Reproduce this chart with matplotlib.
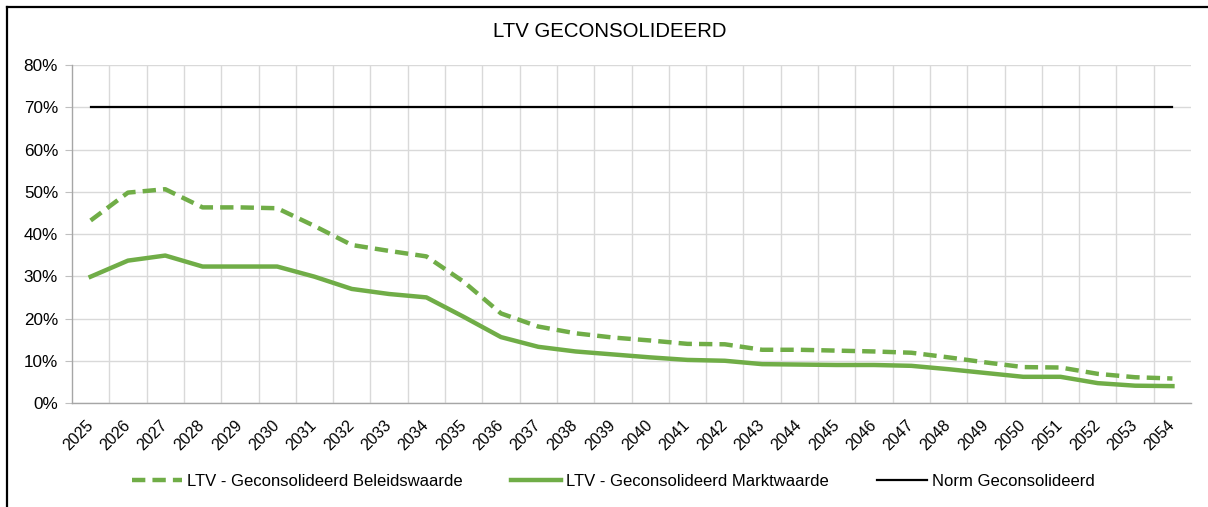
import numpy as np
import matplotlib.pyplot as plt
from matplotlib.lines import Line2D
from matplotlib.ticker import PercentFormatter

plt.rcParams['font.family'] = ['Liberation Sans', 'DejaVu Sans']

# data (percent)
years = [str(y) for y in range(2025, 2055)]
beleidswaarde = [43.2, 49.8, 50.6, 46.3, 46.3, 46.1, 41.9, 37.4, 36.0, 34.7,
                 28.7, 21.2, 18.1, 16.5, 15.5, 14.8, 14.0, 13.9, 12.6, 12.6,
                 12.4, 12.2, 11.9, 10.8, 9.6, 8.5, 8.4, 6.9, 6.1, 5.8]
marktwaarde = [29.9, 33.7, 34.9, 32.3, 32.3, 32.3, 29.9, 27.0, 25.8, 25.0,
               20.4, 15.6, 13.3, 12.2, 11.5, 10.8, 10.2, 10.0, 9.2, 9.1,
               9.0, 9.0, 8.8, 8.0, 7.1, 6.2, 6.2, 4.7, 4.1, 4.0]
norm = [70.0] * len(years)

green = '#70AD47'
x = np.arange(len(years))

fig = plt.figure(figsize=(12.08, 5.07), dpi=100)
ax = fig.add_axes([0.0596, 0.2051, 0.9264, 0.6667])

ax.plot(x, beleidswaarde, color=green, lw=3.2, ls=(0, (3.0, 1.6)),
        label='LTV - Geconsolideerd Beleidswaarde')
ax.plot(x, marktwaarde, color=green, lw=3.2,
        label='LTV - Geconsolideerd Marktwaarde')
ax.plot(x, norm, color='black', lw=1.6, label='Norm Geconsolideerd')

ax.set_xlim(-0.5, len(years) - 0.5)
ax.set_ylim(0, 80)
ax.set_yticks(np.arange(0, 81, 10))
ax.yaxis.set_major_formatter(PercentFormatter(decimals=0))
ax.set_xticks(x)
ax.set_xticklabels(years, rotation=45, ha='right', va='center',
                   rotation_mode='anchor', fontsize=11.5)
ax.set_xticks(np.arange(0.5, len(years) - 1, 1), minor=True)
ax.tick_params(axis='x', which='both', length=0, pad=14)
ax.tick_params(axis='y', length=5, color='#BFBFBF', labelsize=12.3, pad=5)

ax.grid(axis='y', color='#D9D9D9', lw=1.0)
ax.grid(axis='x', which='minor', color='#D9D9D9', lw=1.0)
ax.set_axisbelow(True)
for side in ['top', 'right']:
    ax.spines[side].set_visible(False)
for side in ['left', 'bottom']:
    ax.spines[side].set_color('#A6A6A6')
    ax.spines[side].set_linewidth(1.0)

fig.text(0.505, 0.937, 'LTV GECONSOLIDEERD', ha='center', va='center', fontsize=14.7)

fig.legend(loc='center', bbox_to_anchor=(0.508, 0.051), ncol=3, frameon=False,
           fontsize=12, handlelength=3.0, handletextpad=0.3, columnspacing=2.9)

# outer frame
fig.add_artist(Line2D([6.5 / 1208, 6.5 / 1208], [0, 1 - 6.5 / 507], color='black', lw=1.6))
fig.add_artist(Line2D([6.5 / 1208, 1], [1 - 6.5 / 507, 1 - 6.5 / 507], color='black', lw=1.6))

fig.savefig('out.png', dpi=100)
